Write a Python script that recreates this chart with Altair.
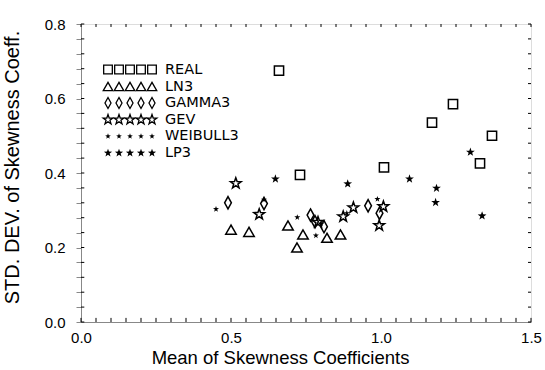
import altair as alt
import pandas as pd

# ---- data ----
real_x = [0.66, 0.73, 1.01, 1.17, 1.24, 1.33, 1.37]
real_y = [0.675, 0.395, 0.415, 0.535, 0.585, 0.426, 0.500]
ln3_x = [0.50, 0.56, 0.69, 0.72, 0.74, 0.82, 0.865]
ln3_y = [0.248, 0.242, 0.259, 0.200, 0.235, 0.226, 0.235]
gamma3_x = [0.49, 0.61, 0.765, 0.78, 0.81, 0.957, 0.995]
gamma3_y = [0.320, 0.318, 0.287, 0.269, 0.256, 0.312, 0.292]
gev_x = [0.516, 0.594, 0.79, 0.874, 0.908, 0.994, 1.008]
gev_y = [0.372, 0.289, 0.268, 0.283, 0.307, 0.259, 0.310]
weibull3_x = [0.45, 0.61, 0.721, 0.783, 0.80, 0.886, 0.988]
weibull3_y = [0.303, 0.328, 0.281, 0.232, 0.263, 0.292, 0.330]
lp3_x = [0.648, 0.889, 1.095, 1.185, 1.182, 1.298, 1.337]
lp3_y = [0.384, 0.371, 0.384, 0.359, 0.321, 0.456, 0.285]

series_names = ["REAL", "LN3", "GAMMA3", "GEV", "WEIBULL3", "LP3"]
x_label_values = [0.0, 0.5, 1.0, 1.5]
x_tick_values = [round(0.05 * i, 2) for i in range(31)]
y_tick_values = [round(0.04 * i, 2) for i in range(21)]

W, H = 450, 298
FONT = "DejaVu Sans"

STAR = ("M0,-1L0.235,-0.324L0.951,-0.309L0.38,0.124L0.588,0.809L0,0.4"
        "L-0.588,0.809L-0.38,0.124L-0.951,-0.309L-0.235,-0.324Z")
DIAMOND = "M0,-1L0.55,0L0,1L-0.55,0Z"

styles = {
    "REAL": dict(shape="square", filled=False, size=85, lsize=75),
    "LN3": dict(shape="triangle-up", filled=False, size=110, lsize=90),
    "GAMMA3": dict(shape=DIAMOND, filled=False, size=150, lsize=120),
    "GEV": dict(shape=STAR, filled=False, size=125, lsize=105),
    "WEIBULL3": dict(shape=STAR, filled=True, size=40, lsize=35),
    "LP3": dict(shape=STAR, filled=True, size=85, lsize=75),
}
series_data = {
    "REAL": (real_x, real_y), "LN3": (ln3_x, ln3_y), "GAMMA3": (gamma3_x, gamma3_y),
    "GEV": (gev_x, gev_y), "WEIBULL3": (weibull3_x, weibull3_y), "LP3": (lp3_x, lp3_y),
}

xs = alt.Scale(domain=[0, 1.5], nice=False, zero=False)
ys = alt.Scale(domain=[0, 0.8], nice=False, zero=False)

xaxis = alt.Axis(
    values=x_label_values, format=".1f", ticks=False, labelPadding=8,
    labelFontSize=15, labelFlush=False, labelOverlap=False, grid=False,
    title="Mean of Skewness Coefficients", titleFontSize=18.5, titleFontWeight="normal",
    titleX=199, titleY=41, titleBaseline="alphabetic", titleAlign="center",
)
yaxis = alt.Axis(
    values=y_tick_values,
    labelExpr="abs(datum.value*5 - round(datum.value*5)) < 0.001 ? format(datum.value, '.1f') : ''",
    tickSize=5, labelPadding=11, labelFontSize=15, labelFlush=False, labelOverlap=False,
    grid=False,
    title="STD. DEV. of Skewness Coeff.", titleFontSize=20, titleFontWeight="normal",
    titleAngle=270, titleX=-63, titleY=143, titleBaseline="alphabetic", titleAlign="center",
)

layers = []
for name in series_names:
    xv, yv = series_data[name]
    st = styles[name]
    df = pd.DataFrame({"x": xv, "y": yv})
    layers.append(
        alt.Chart(df).mark_point(shape=st["shape"], filled=st["filled"], size=st["size"],
                                 color="black", strokeWidth=1.5, opacity=1)
        .encode(x=alt.X("x:Q", scale=xs, axis=xaxis), y=alt.Y("y:Q", scale=ys, axis=yaxis))
    )

# inward minor ticks on all four sides
xt = pd.DataFrame({"t": x_tick_values})
yt = pd.DataFrame({"t": y_tick_values})
layers.append(alt.Chart(xt).mark_rule(color="black", strokeWidth=1).encode(
    x=alt.X("t:Q", scale=xs, axis=xaxis), y=alt.Y(datum=0.0, scale=ys, axis=yaxis), y2=alt.Y2(datum=0.011)))
layers.append(alt.Chart(xt).mark_rule(color="black", strokeWidth=1).encode(
    x=alt.X("t:Q", scale=xs, axis=xaxis), y=alt.Y(datum=0.8, scale=ys, axis=yaxis), y2=alt.Y2(datum=0.792)))
layers.append(alt.Chart(yt).mark_rule(color="black", strokeWidth=1).encode(
    y=alt.Y("t:Q", scale=ys, axis=yaxis), x=alt.X(datum=0.0, scale=xs, axis=xaxis), x2=alt.X2(datum=0.011)))
layers.append(alt.Chart(yt).mark_rule(color="black", strokeWidth=1).encode(
    y=alt.Y("t:Q", scale=ys, axis=yaxis), x=alt.X(datum=1.5, scale=xs, axis=xaxis), x2=alt.X2(datum=1.49)))

main = alt.layer(*layers)

# ---- custom legend (pixel layout inside the plot area) ----
leg_row_y = [45.5, 62.5, 79, 95.7, 112.3, 129]
leg_sym_x = [27, 38, 49, 60, 71]
leg_text_x = 84
lx = alt.Scale(domain=[0, W], nice=False, zero=False)
ly = alt.Scale(domain=[0, H], nice=False, zero=False, reverse=True)
leg_layers = []
for i, name in enumerate(series_names):
    st = styles[name]
    ldf = pd.DataFrame({"px": leg_sym_x, "py": [leg_row_y[i]] * len(leg_sym_x)})
    leg_layers.append(
        alt.Chart(ldf).mark_point(shape=st["shape"], filled=st["filled"], size=st["lsize"],
                                  color="black", strokeWidth=1.3, opacity=1)
        .encode(x=alt.X("px:Q", scale=lx, axis=None), y=alt.Y("py:Q", scale=ly, axis=None))
    )
tdf = pd.DataFrame({"px": [leg_text_x] * len(series_names), "py": leg_row_y, "label": series_names})
leg_layers.append(
    alt.Chart(tdf).mark_text(align="left", baseline="middle", fontSize=14.5, font=FONT, color="black")
    .encode(x=alt.X("px:Q", scale=lx, axis=None), y=alt.Y("py:Q", scale=ly, axis=None), text="label:N")
)
legend = alt.layer(*leg_layers)

chart = (
    alt.layer(main, legend)
    .resolve_scale(x="independent", y="independent")
    .properties(width=W, height=H, autosize="none",
                padding={"left": 81, "top": 24, "right": 14, "bottom": 48})
    .configure_view(stroke="black", strokeWidth=2)
    .configure_axis(domainColor="black", domainWidth=1.5, tickColor="black", tickWidth=1,
                    labelColor="black", titleColor="black", labelFont=FONT, titleFont=FONT)
    .configure(background="white")
)

chart.save("out.html", embed_options={"renderer": "svg", "actions": False})
